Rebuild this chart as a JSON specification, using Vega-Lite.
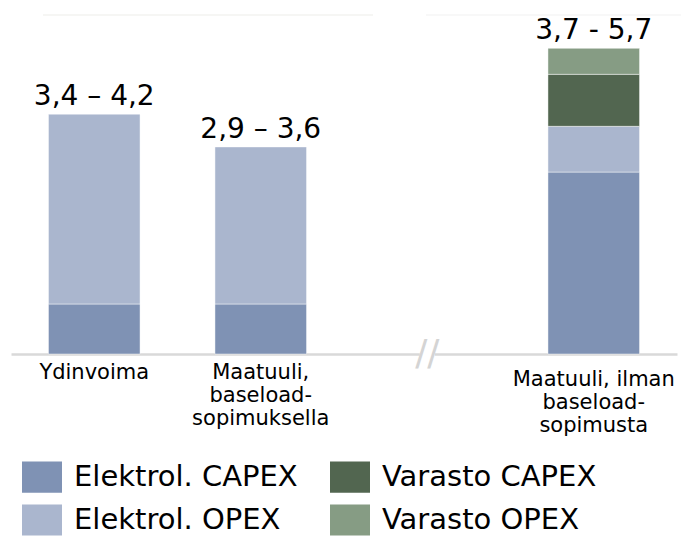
{
  "$schema": "https://vega.github.io/schema/vega-lite/v6.json",
  "autosize": "none",
  "width": 666,
  "height": 339,
  "padding": {"left": 11, "top": 15, "right": 22, "bottom": 183},
  "background": "#ffffff",
  "config": {"view": {"stroke": null}, "font": "DejaVu Sans"},
  "datasets": {
    "bars": [
      {"cat": "Ydinvoima", "comp": "Elektrol. CAPEX", "k": 1, "value": 0.885},
      {"cat": "Ydinvoima", "comp": "Elektrol. OPEX", "k": 2, "value": 3.36},
      {"cat": "Maatuuli, baseload-sopimuksella", "comp": "Elektrol. CAPEX", "k": 1, "value": 0.885},
      {"cat": "Maatuuli, baseload-sopimuksella", "comp": "Elektrol. OPEX", "k": 2, "value": 2.78},
      {"cat": "Maatuuli, ilman baseload-sopimusta", "comp": "Elektrol. CAPEX", "k": 1, "value": 3.22},
      {"cat": "Maatuuli, ilman baseload-sopimusta", "comp": "Elektrol. OPEX", "k": 2, "value": 0.81},
      {"cat": "Maatuuli, ilman baseload-sopimusta", "comp": "Varasto CAPEX", "k": 3, "value": 0.92},
      {"cat": "Maatuuli, ilman baseload-sopimusta", "comp": "Varasto OPEX", "k": 4, "value": 0.46}
    ],
    "labels": [
      {"cat": "Ydinvoima", "label": "3,4 – 4,2", "total": 4.245},
      {"cat": "Maatuuli, baseload-sopimuksella", "label": "2,9 – 3,6", "total": 3.665},
      {"cat": "Maatuuli, ilman baseload-sopimusta", "label": "3,7 - 5,7", "total": 5.41}
    ],
    "gap": [{"cat": "gap", "lo": -0.1, "hi": 0.1, "mid": 0}],
    "top1": [{"cat": "Maatuuli, baseload-sopimuksella", "v": 6}],
    "top2": [{"cat": "Maatuuli, ilman baseload-sopimusta", "v": 6}]
  },
  "layer": [
    {
      "data": {"name": "bars"},
      "mark": {"type": "bar", "stroke": "#ffffff", "strokeOpacity": 0.45, "strokeWidth": 1},
      "encoding": {
        "x": {
          "field": "cat",
          "type": "nominal",
          "sort": null,
          "scale": {
            "domain": ["Ydinvoima", "Maatuuli, baseload-sopimuksella", "gap", "Maatuuli, ilman baseload-sopimusta"],
            "paddingInner": 0.45,
            "paddingOuter": 0.225
          },
          "axis": {
            "title": null,
            "ticks": false,
            "domain": true,
            "domainColor": "#d9d9d9",
            "domainWidth": 2.5,
            "labelAngle": 0,
            "labelFont": "DejaVu Sans",
            "labelFontSize": 21,
            "labelColor": "#000000",
            "labelPadding": {"condition": {"test": "datum.value === 'Maatuuli, ilman baseload-sopimusta'", "value": 14}, "value": 7},
            "labelLineHeight": 23,
            "labelBaseline": "top",
            "labelLimit": 300,
            "labelExpr": "datum.label == 'gap' ? '' : datum.label == 'Ydinvoima' ? 'Ydinvoima' : datum.label == 'Maatuuli, baseload-sopimuksella' ? ['Maatuuli,', 'baseload-', 'sopimuksella'] : ['Maatuuli, ilman', 'baseload-', 'sopimusta']"
          }
        },
        "y": {
          "field": "value",
          "type": "quantitative",
          "stack": "zero",
          "scale": {"domain": [0, 6], "nice": false, "zero": true},
          "axis": null
        },
        "order": {"field": "k", "type": "quantitative"},
        "color": {
          "field": "comp",
          "type": "nominal",
          "scale": {
            "domain": ["Elektrol. CAPEX", "Elektrol. OPEX", "Varasto CAPEX", "Varasto OPEX"],
            "range": ["#7f92b4", "#aab6ce", "#526650", "#869c84"]
          },
          "legend": {
            "orient": "none",
            "legendX": 11,
            "legendY": 442,
            "columns": 2,
            "columnPadding": 32,
            "rowPadding": 7,
            "padding": 0,
            "title": null,
            "symbolType": "M-1,-0.78H1V0.78H-1Z",
            "symbolSize": 1600,
            "symbolStrokeWidth": 0,
            "symbolOpacity": 1,
            "labelFont": "DejaVu Sans",
            "labelFontSize": 29,
            "labelColor": "#000000",
            "labelOffset": 12,
            "labelLimit": 400
          }
        }
      }
    },
    {
      "data": {"name": "top1"},
      "mark": {"type": "tick", "color": "#e6e6df", "thickness": 1, "size": 330, "xOffset": -52.75},
      "encoding": {
        "x": {"field": "cat", "type": "nominal"},
        "y": {"field": "v", "type": "quantitative"}
      }
    },
    {
      "data": {"name": "top2"},
      "mark": {"type": "tick", "color": "#ececec", "thickness": 1, "size": 255, "xOffset": -40.25},
      "encoding": {
        "x": {"field": "cat", "type": "nominal"},
        "y": {"field": "v", "type": "quantitative"}
      }
    },
    {
      "data": {"name": "gap"},
      "mark": {"type": "bar", "color": "#ffffff", "width": 15},
      "encoding": {
        "x": {"field": "cat", "type": "nominal"},
        "y": {"field": "lo", "type": "quantitative"},
        "y2": {"field": "hi"}
      }
    },
    {
      "data": {"name": "gap"},
      "mark": {"type": "text", "text": "//", "font": "DejaVu Sans", "fontSize": 36, "color": "#d4d4d4", "baseline": "middle", "align": "center"},
      "encoding": {
        "x": {"field": "cat", "type": "nominal"},
        "y": {"field": "mid", "type": "quantitative"}
      }
    },
    {
      "data": {"name": "labels"},
      "mark": {"type": "text", "font": "DejaVu Sans", "fontSize": 28, "color": "#000000", "baseline": "alphabetic", "align": "center", "dy": -9},
      "encoding": {
        "x": {"field": "cat", "type": "nominal"},
        "y": {"field": "total", "type": "quantitative"},
        "text": {"field": "label", "type": "nominal"}
      }
    }
  ]
}
